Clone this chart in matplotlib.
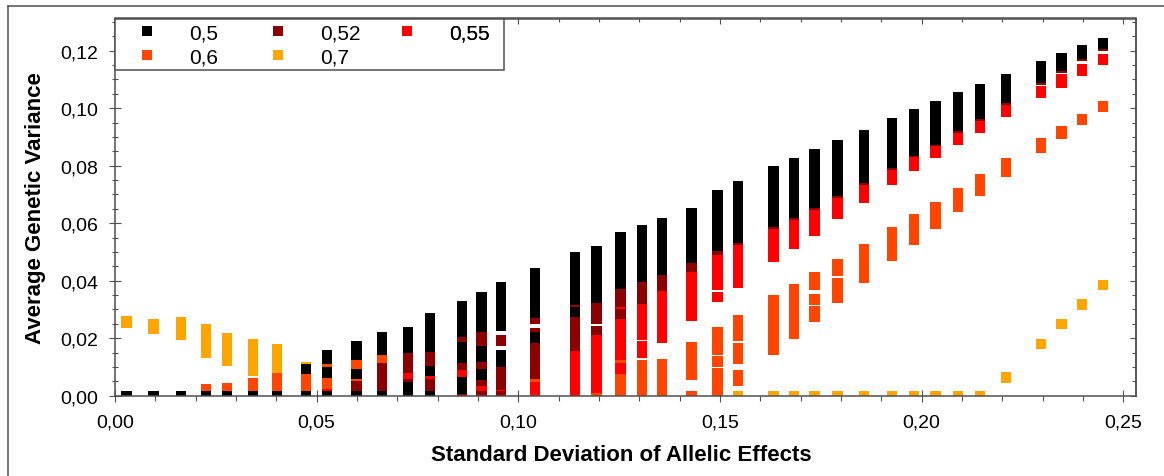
import matplotlib
matplotlib.use("Agg")
import matplotlib.pyplot as plt
from matplotlib.ticker import MultipleLocator, FuncFormatter, NullFormatter
from matplotlib.lines import Line2D
from matplotlib.patches import Rectangle

plt.rcParams['font.family'] = ['Liberation Sans', 'DejaVu Sans']

# ---------------- data (visible segments: x, low, high) ----------------
labels = ["0,5", "0,52", "0,55", "0,6", "0,7"]
colors = ["#000000", "#8B0000", "#FF0000", "#FF4500", "#FFA500"]

x_05 = [0.0029, 0.0096, 0.0164, 0.0226, 0.0278, 0.0342, 0.0402,
        0.0473, 0.0473, 0.0526, 0.0526, 0.0526, 0.0599, 0.0599, 0.0599,
        0.0662, 0.0662, 0.0727, 0.0727, 0.0781, 0.0781, 0.0781,
        0.0860, 0.0860, 0.0860, 0.0909, 0.0909, 0.0909, 0.0957, 0.0957,
        0.1042, 0.1042, 0.1141, 0.1141, 0.1194, 0.1254, 0.1307, 0.1357,
        0.1430, 0.1494, 0.1545, 0.1633, 0.1684, 0.1734, 0.1792, 0.1857,
        0.1927, 0.1981, 0.2035, 0.2090, 0.2145, 0.2210, 0.2296, 0.2347,
        0.2398, 0.2450]
lo_05 = [0, 0, 0, 0, 0, 0, 0,
         0, 0.0074, 0, 0.0063, 0.0109, 0, 0.0057, 0.0125,
         0, 0.0143, 0, 0.0149, 0, 0.0067, 0.0153,
         0.0006, 0.0113, 0.0203, 0.0053, 0.0117, 0.0221, 0.0101, 0.0224,
         0.0183, 0.0271, 0.0274, 0.0317, 0.0322, 0.0371, 0.0395, 0.0421,
         0.0463, 0.0502, 0.0532, 0.0587, 0.0617, 0.0652, 0.0694, 0.0740,
         0.0791, 0.0835, 0.0873, 0.0920, 0.0962, 0.1018, 0.1087, 0.1129,
         0.1170, 0.1205]
hi_05 = [0.0016, 0.0016, 0.0016, 0.0016, 0.0016, 0.0016, 0.0016,
         0.0016, 0.0110, 0.0016, 0.0100, 0.0158, 0.0016, 0.0093, 0.0189,
         0.0016, 0.0221, 0.0048, 0.0238, 0.0016, 0.0104, 0.0289,
         0.0066, 0.0186, 0.0330, 0.0093, 0.0173, 0.0360, 0.0158, 0.0394,
         0.0221, 0.0445, 0.0310, 0.0500, 0.0522, 0.0569, 0.0594, 0.0617,
         0.0654, 0.0715, 0.0746, 0.0798, 0.0826, 0.0857, 0.0889, 0.0924,
         0.0965, 0.0997, 0.1025, 0.1057, 0.1085, 0.1120, 0.1164, 0.1193,
         0.1219, 0.1244]

x_052 = [0.0599, 0.0662, 0.0727, 0.0727, 0.0781, 0.0781,
         0.0860, 0.0860, 0.0860, 0.0909, 0.0909, 0.0909, 0.0909,
         0.0957, 0.0957, 0.0957, 0.1042, 0.1042, 0.1042, 0.1141, 0.1141,
         0.1194, 0.1194, 0.1254, 0.1254, 0.1307, 0.1357, 0.1430, 0.1494,
         0.1545, 0.1633, 0.1684, 0.1734, 0.1792, 0.1857, 0.1927, 0.1981,
         0.2035, 0.2090, 0.2145, 0.2210, 0.2296, 0.2347, 0.2398, 0.2450]
lo_052 = [0.0016, 0.0016, 0.0048, 0.0079, 0.0016, 0.0104,
          0, 0.0090, 0.0186, 0, 0.0035, 0.0093, 0.0173,
          0, 0.0021, 0.0173, 0.0058, 0.0221, 0.0250, 0.0157, 0.0310,
          0.0211, 0.0248, 0.0267, 0.0307, 0.0320, 0.0364, 0.0431, 0.0488,
          0.0525, 0.0580, 0.0611, 0.0646, 0.0688, 0.0734, 0.0785, 0.0829,
          0.0867, 0.0914, 0.0956, 0.1012, 0.1081, 0.1124, 0.1163, 0.1199]
hi_052 = [0.0050, 0.0114, 0.0058, 0.0149, 0.0058, 0.0153,
          0.0006, 0.0113, 0.0203, 0.0016, 0.0053, 0.0117, 0.0221,
          0.0016, 0.0101, 0.0211, 0.0183, 0.0234, 0.0271, 0.0274, 0.0317,
          0.0244, 0.0322, 0.0302, 0.0371, 0.0395, 0.0421, 0.0463, 0.0502,
          0.0532, 0.0587, 0.0617, 0.0652, 0.0694, 0.0740, 0.0791, 0.0835,
          0.0873, 0.0920, 0.0962, 0.1018, 0.1087, 0.1129, 0.1170, 0.1205]

x_055 = [0.0526, 0.0727, 0.0781, 0.0860, 0.0909, 0.0957, 0.1042, 0.1141,
         0.1194, 0.1254, 0.1254, 0.1254, 0.1307, 0.1307, 0.1357, 0.1430,
         0.1494, 0.1494, 0.1545, 0.1633, 0.1684, 0.1734, 0.1792, 0.1857,
         0.1927, 0.1981, 0.2035, 0.2090, 0.2145, 0.2210, 0.2296, 0.2347,
         0.2398, 0.2450]
lo_055 = [0.0016, 0.0058, 0.0058, 0.0066, 0.0016, 0.0016, 0, 0,
          0.0009, 0.0075, 0.0124, 0.0302, 0.0131, 0.0195, 0.0184, 0.0259,
          0.0325, 0.0368, 0.0375, 0.0464, 0.0510, 0.0557, 0.0614, 0.0671,
          0.0734, 0.0780, 0.0826, 0.0872, 0.0914, 0.0968, 0.1034, 0.1071,
          0.1111, 0.1149]
hi_055 = [0.0024, 0.0079, 0.0067, 0.0090, 0.0035, 0.0021, 0.0049, 0.0157,
          0.0211, 0.0114, 0.0267, 0.0307, 0.0190, 0.0320, 0.0364, 0.0431,
          0.0362, 0.0488, 0.0525, 0.0580, 0.0611, 0.0646, 0.0688, 0.0734,
          0.0785, 0.0829, 0.0867, 0.0914, 0.0956, 0.1012, 0.1078, 0.1120,
          0.1154, 0.1188]

x_06 = [0.0226, 0.0278, 0.0342, 0.0402, 0.0473, 0.0526, 0.0526,
        0.0599, 0.0599, 0.0662, 0.1042, 0.1194, 0.1254, 0.1254,
        0.1307, 0.1357, 0.1430, 0.1430, 0.1494, 0.1494, 0.1494,
        0.1545, 0.1545, 0.1545, 0.1633, 0.1684, 0.1734, 0.1734, 0.1734,
        0.1792, 0.1792, 0.1857, 0.1927, 0.1981, 0.2035, 0.2090, 0.2145,
        0.2210, 0.2296, 0.2347, 0.2398, 0.2450]
lo_06 = [0.0016, 0.0016, 0.0016, 0.0016, 0.0016, 0.0024, 0.0100,
         0.0050, 0.0093, 0.0114, 0.0049, 0, 0, 0.0114,
         0, 0, 0, 0.0056, 0, 0.0101, 0.0142,
         0.0034, 0.0111, 0.0190, 0.0140, 0.0196, 0.0255, 0.0315, 0.0367,
         0.0321, 0.0417, 0.0392, 0.0467, 0.0525, 0.0581, 0.0640, 0.0695,
         0.0762, 0.0845, 0.0893, 0.0942, 0.0988]
hi_06 = [0.0042, 0.0045, 0.0063, 0.0079, 0.0074, 0.0063, 0.0109,
         0.0057, 0.0125, 0.0143, 0.0058, 0.0009, 0.0075, 0.0124,
         0.0123, 0.0128, 0.0016, 0.0187, 0.0095, 0.0137, 0.0240,
         0.0090, 0.0184, 0.0281, 0.0349, 0.0390, 0.0313, 0.0353, 0.0429,
         0.0410, 0.0477, 0.0529, 0.0587, 0.0632, 0.0675, 0.0722, 0.0770,
         0.0826, 0.0896, 0.0937, 0.0979, 0.1025]

x_07 = [0.0029, 0.0096, 0.0164, 0.0226, 0.0278, 0.0342, 0.0402, 0.0473,
        0.1545, 0.1633, 0.1684, 0.1734, 0.1792, 0.1857, 0.1927, 0.1981,
        0.2035, 0.2090, 0.2145, 0.2210, 0.2296, 0.2347, 0.2398, 0.2450]
lo_07 = [0.0237, 0.0215, 0.0195, 0.0132, 0.0104, 0.0070, 0.0079, 0.0110,
         0, 0, 0, 0, 0, 0, 0, 0,
         0, 0, 0, 0.0044, 0.0162, 0.0231, 0.0299, 0.0368]
hi_07 = [0.0276, 0.0267, 0.0274, 0.0249, 0.0217, 0.0198, 0.0181, 0.0117,
         0.0016, 0.0016, 0.0016, 0.0016, 0.0016, 0.0016, 0.0016, 0.0016,
         0.0016, 0.0016, 0.0016, 0.0081, 0.0198, 0.0267, 0.0335, 0.0403]

series = [(x_07, lo_07, hi_07, 4), (x_06, lo_06, hi_06, 3),
          (x_055, lo_055, hi_055, 2), (x_052, lo_052, hi_052, 1),
          (x_05, lo_05, hi_05, 0)]

# ---------------- figure ----------------
W, H = 1164, 477
AX_L, AX_R, AX_T, AX_B = 115, 1135.7, 19.5, 396.7
fig = plt.figure(figsize=(W / 100, H / 100), dpi=100)
ax = fig.add_axes([AX_L / W, 1 - AX_B / H, (AX_R - AX_L) / W, (AX_B - AX_T) / H])

def ax_x(px):
    return (px - AX_L) / (AX_R - AX_L)

def ax_y(py):
    return (AX_B - py) / (AX_B - AX_T)

bar_w = 0.0026
for xs, lo, hi, ci in series:
    ax.bar(xs, [h - l for l, h in zip(lo, hi)], bottom=lo, width=bar_w,
           color=colors[ci], linewidth=0, zorder=2)

ax.set_xlim(0, 0.2531)
ax.set_ylim(0, 0.1312)

spine_c = "#505050"
for s in ax.spines.values():
    s.set_color(spine_c)
    s.set_linewidth(1.1)

fmt = FuncFormatter(lambda v, p: f"{v:.2f}".replace(".", ","))
ax.xaxis.set_major_locator(MultipleLocator(0.05))
ax.xaxis.set_minor_locator(MultipleLocator(0.01))
ax.yaxis.set_major_locator(MultipleLocator(0.02))
ax.yaxis.set_minor_locator(MultipleLocator(0.005))
ax.xaxis.set_major_formatter(fmt)
ax.yaxis.set_major_formatter(fmt)

ax.tick_params(axis='x', which='major', direction='inout', length=8.6, width=0.8,
               color=spine_c, labelsize=14, pad=8.5, top=False)
ax.tick_params(axis='x', which='minor', direction='out', length=3.6, width=0.8,
               color=spine_c, top=False)
ax.tick_params(axis='y', which='major', direction='inout', length=8.6, width=0.8,
               color=spine_c, labelsize=14, pad=8, right=False)
ax.tick_params(axis='y', which='minor', direction='inout', length=4.6, width=0.8,
               color=spine_c, right=False)

# top / right inward ticks
secx = ax.secondary_xaxis('top')
secx.xaxis.set_major_locator(MultipleLocator(0.05))
secx.xaxis.set_minor_locator(MultipleLocator(0.01))
secx.xaxis.set_major_formatter(NullFormatter())
secx.tick_params(which='major', direction='in', length=4.6, width=0.8, color=spine_c)
secx.tick_params(which='minor', direction='in', length=2.9, width=0.8, color=spine_c)
secx.spines['top'].set_color(spine_c)
secx.spines['top'].set_linewidth(1.1)

secy = ax.secondary_yaxis('right')
secy.yaxis.set_major_locator(MultipleLocator(0.02))
secy.yaxis.set_minor_locator(MultipleLocator(0.005))
secy.yaxis.set_major_formatter(NullFormatter())
secy.tick_params(which='major', direction='in', length=4.6, width=0.8, color=spine_c)
secy.tick_params(which='minor', direction='in', length=2.7, width=0.8, color=spine_c)
secy.spines['right'].set_color(spine_c)
secy.spines['right'].set_linewidth(1.1)

ax.set_xlabel("Standard Deviation of Allelic Effects", fontsize=16, fontweight='bold')
ax.set_ylabel("Average Genetic Variance", fontsize=16, fontweight='bold')
ax.xaxis.set_label_coords(ax_x(621), ax_y(445))
ax.yaxis.set_label_coords(ax_x(46.3), 0.5)

# legend: box + three columns
fs_leg = 15
box = Rectangle((0, ax_y(71)), ax_x(504), 1 - ax_y(71), transform=ax.transAxes,
                facecolor='white', edgecolor=spine_c, linewidth=1.1,
                zorder=4, clip_on=False)
ax.add_patch(box)

columns = [([0, 3], 147), ([1, 4], 278), ([2], 407)]
hl = 2.0
em_px = fs_leg / 72 * 100
for idxs, cx in columns:
    hs = [Line2D([], [], linestyle='none', marker='s', markersize=7.2,
                 markerfacecolor=colors[i], markeredgewidth=0) for i in idxs]
    leg = ax.legend(hs, [labels[i] for i in idxs], loc='upper left',
                    bbox_to_anchor=(ax_x(cx - hl * em_px / 2), ax_y(24.5)),
                    borderaxespad=0, borderpad=0, fontsize=fs_leg, frameon=False,
                    labelspacing=0.25, handlelength=hl, handletextpad=1.0)
    leg.set_zorder(5)
    ax.add_artist(leg)

# figure border (left and top)
fig.add_artist(Line2D([8 / W, 8 / W], [0, 1 - 7 / H], transform=fig.transFigure,
                      color=spine_c, linewidth=1.1))
fig.add_artist(Line2D([8 / W, 1], [1 - 7 / H, 1 - 7 / H], transform=fig.transFigure,
                      color=spine_c, linewidth=1.1))

fig.savefig("out.png", dpi=100)
